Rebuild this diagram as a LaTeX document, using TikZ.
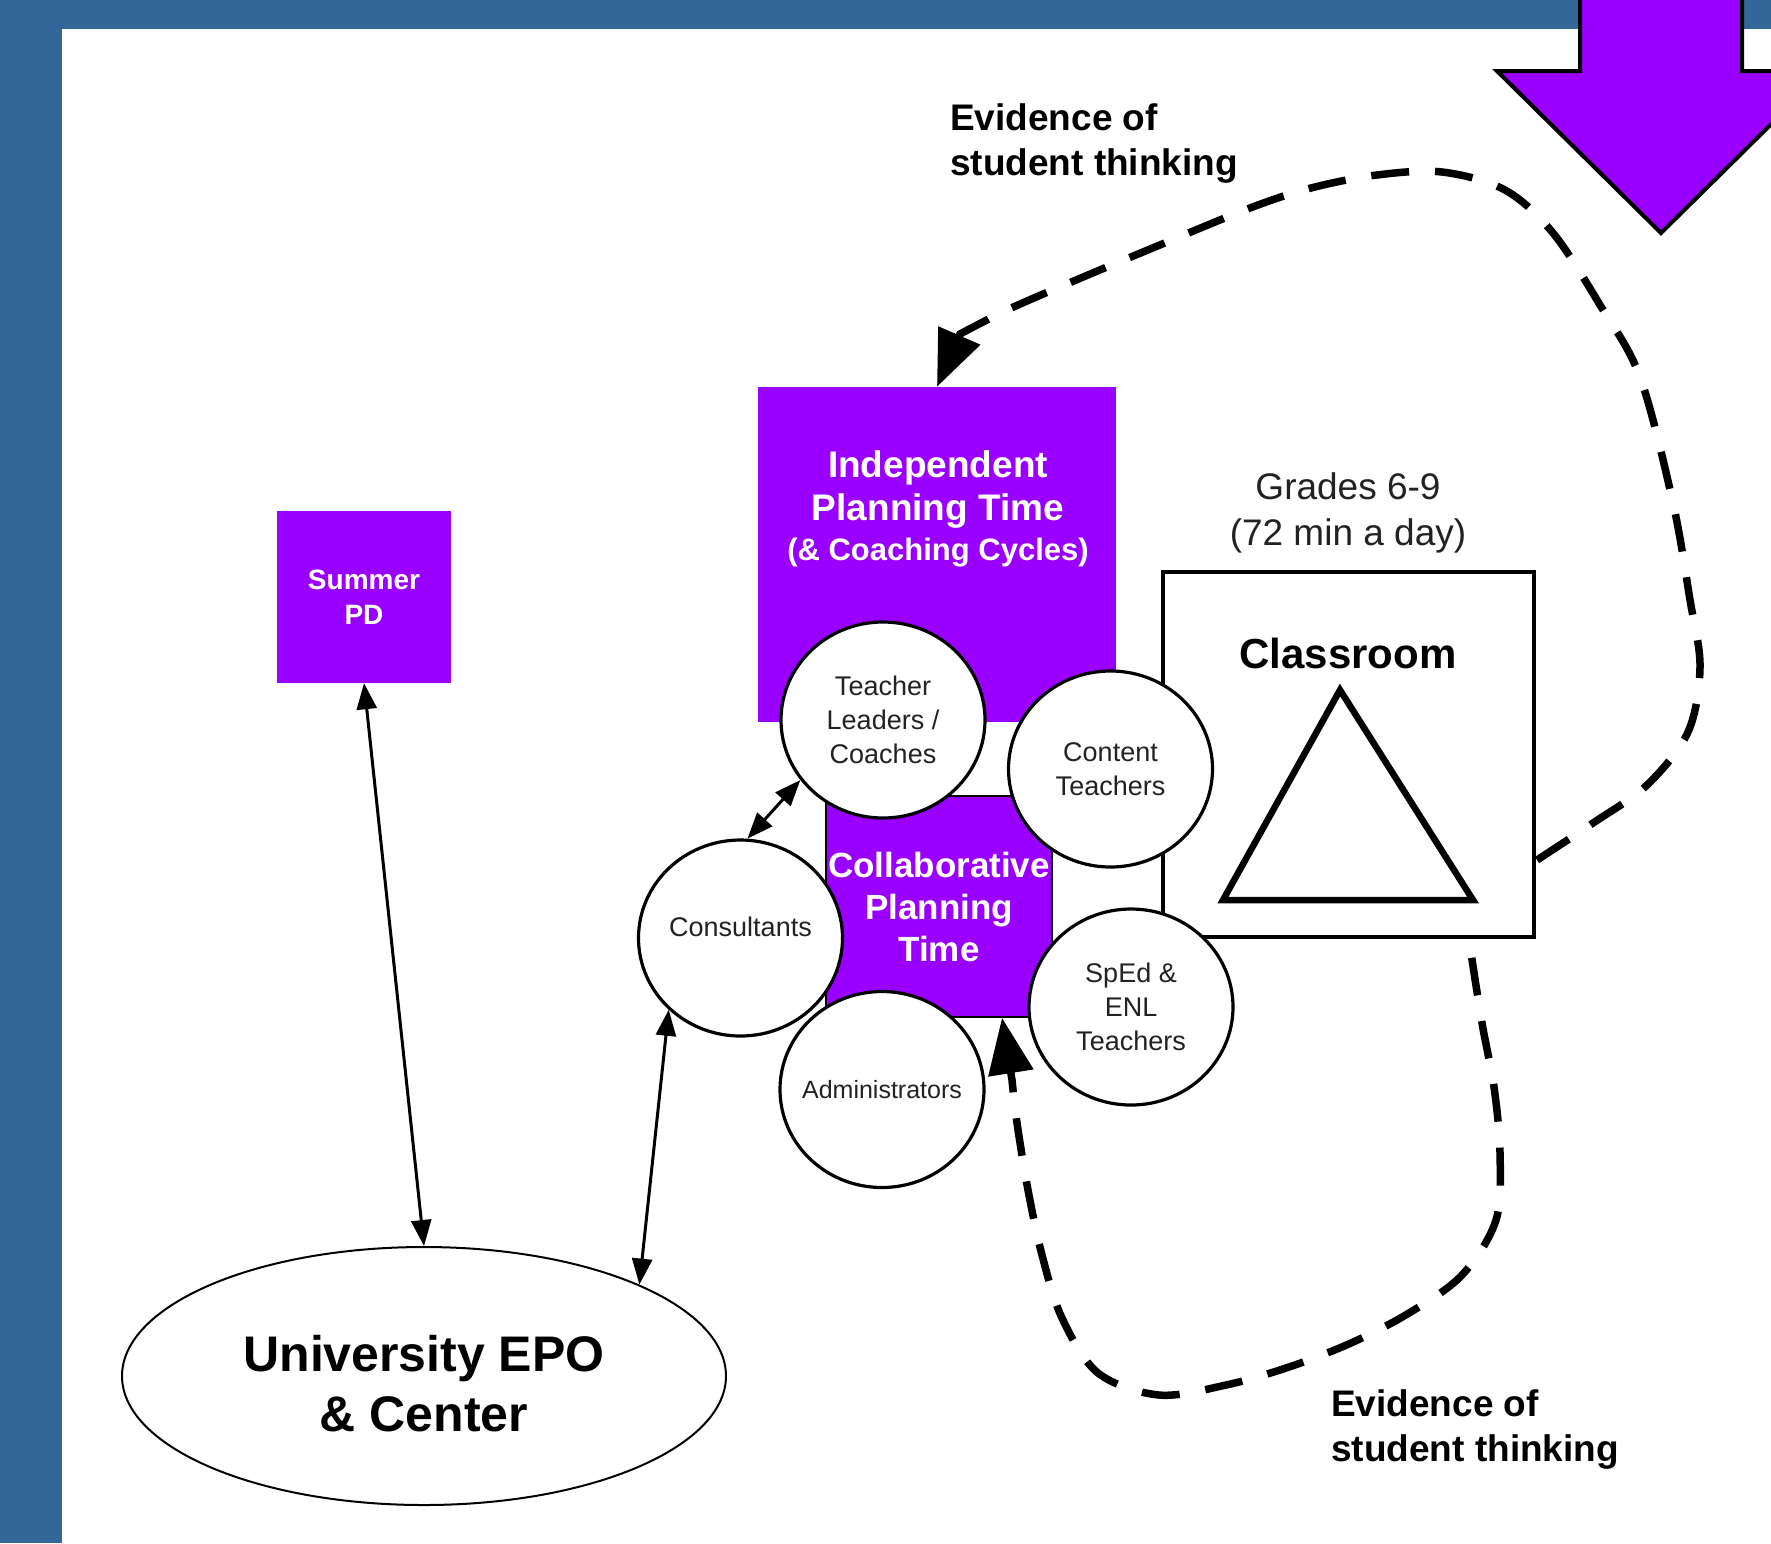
\documentclass[tikz,border=0pt]{standalone}
\usepackage{fontspec}
\setmainfont{Liberation Sans}
\usetikzlibrary{shapes.geometric,arrows.meta,calc}
\definecolor{frameblue}{RGB}{52,103,153}
\definecolor{vpurple}{RGB}{153,0,255}
\definecolor{txtgray}{RGB}{34,34,34}
\begin{document}
\begin{tikzpicture}[x=1pt,y=-1pt,
  pbox/.style={fill=vpurple, draw=none, inner sep=0pt, text=white, align=center},
  person/.style={ellipse, draw=black, line width=3.2pt, fill=white, minimum width=204pt, minimum height=196pt, inner sep=0pt, inner xsep=-20pt, align=center, text=txtgray, font=\fontsize{27}{34}\selectfont},
  solidlink/.style={line width=3pt, {Triangle[length=26pt,width=20pt]}-{Triangle[length=26pt,width=20pt]}},
  evidence/.style={line width=7.5pt, dash pattern=on 38pt off 26pt, -{Triangle[length=56pt,width=44pt]}},
  lbl/.style={inner sep=0pt, align=left, font=\fontsize{37}{45}\selectfont\bfseries}
]
\useasboundingbox (0,0) rectangle (1771,1543);
\fill[frameblue] (0,0) rectangle (1771,1543);
\fill[white] (62,29) rectangle (1771,1543);

% purple boxes
\node[pbox, minimum width=358pt, minimum height=335pt] (indep) at (937,554.5) {};
\node[inner sep=0pt, text=white, align=center, font=\fontsize{37}{43}\selectfont\bfseries] (indeptext) at (938,509)
  {Independent\\Planning Time\\[-3pt]{\fontsize{31}{37}\selectfont(\& Coaching Cycles)}};
\node[pbox, draw=black, line width=1.5pt, minimum width=226pt, minimum height=221pt, font=\fontsize{35}{42}\selectfont\bfseries] (collab) at (939,906.5) {Collaborative\\Planning\\Time};
\node[pbox, minimum width=174pt, minimum height=172pt, font=\fontsize{28}{35}\selectfont\bfseries] (summer) at (364,597) {Summer\\PD};

% classroom
\node[draw=black, line width=4pt, fill=white, minimum width=371pt, minimum height=365pt, inner sep=0pt] (classroom) at (1348.5,754.5) {};
\node[inner sep=0pt, font=\fontsize{42}{50}\selectfont\bfseries] (classlbl) at (1348,653) {Classroom};
\draw[line width=6.5pt, line join=miter] (1340,690) -- (1473,900) -- (1223,900) -- cycle;
\node[inner sep=0pt, align=center, text=txtgray, font=\fontsize{37}{46}\selectfont] (grades) at (1348,513) {Grades 6-9\\(72 min a day)};

% people
\node[person] (teacher) at (883,720) {Teacher\\Leaders /\\Coaches};
\node[person] (content) at (1110.5,769) {Content\\Teachers};
\node[person, text depth=22pt] (cons) at (740.5,938) {Consultants};
\node[person, font=\fontsize{25}{30}\selectfont] (admin) at (882,1089.5) {Administrators};
\node[person] (sped) at (1131,1007) {SpEd \&\\ENL\\Teachers};

% university
\node[ellipse, draw=black, line width=2pt, fill=white, minimum width=604pt, minimum height=258pt, inner sep=0pt] (univ) at (424,1376) {};
\node[inner sep=0pt, align=center, font=\fontsize{50}{60}\selectfont\bfseries] (univtext) at (424,1384) {University EPO\\\& Center};

% solid connectors
\draw[solidlink] (summer.south) -- (univ.north);
\draw[solidlink] (cons.225.6) -- (univ.23.5);
\draw[solidlink] (cons.86) -- (teacher.216.5);

% evidence loops
\coordinate (topstart) at (1537,860);
\coordinate (botstart) at (1469,940);
\draw[evidence] plot[smooth, tension=0.55] coordinates {(topstart) (1593,823) (1647,785) (1688,732) (1700,667) (1690,600) (1673,503) (1640,377) (1600,305) (1553,233) (1505,190) (1442,172) (1377,175) (1311,188) (1250,208) (1155,247) (1069,283) (1007,310) (960,334)} -- (indep.north);
\draw[evidence, dash phase=46pt] plot[smooth, tension=0.55] coordinates {(botstart) (1482,1023) (1494,1087) (1500,1153) (1496,1220) (1462,1275) (1409,1313) (1351,1343) (1289,1367) (1226,1385) (1159,1395) (1098,1373) (1062,1318) (1042,1255) (1028,1190) (1017,1123) (1012,1080)} -- ($(collab.south)+(63,0)$);

\node[lbl, anchor=west] (evtop) at (950,144) {Evidence of\\student thinking};
\node[lbl, anchor=west] (evbot) at (1331,1429) {Evidence of\\student thinking};

% big arrow
\begin{scope}
\clip (0,0) rectangle (1771,1543);
\draw[line width=4pt, fill=vpurple, line join=miter] (1580,-10) -- (1580,71) -- (1497,71) -- (1661,233) -- (1825,71) -- (1742,71) -- (1742,-10) -- cycle;
\end{scope}
\end{tikzpicture}
\end{document}
